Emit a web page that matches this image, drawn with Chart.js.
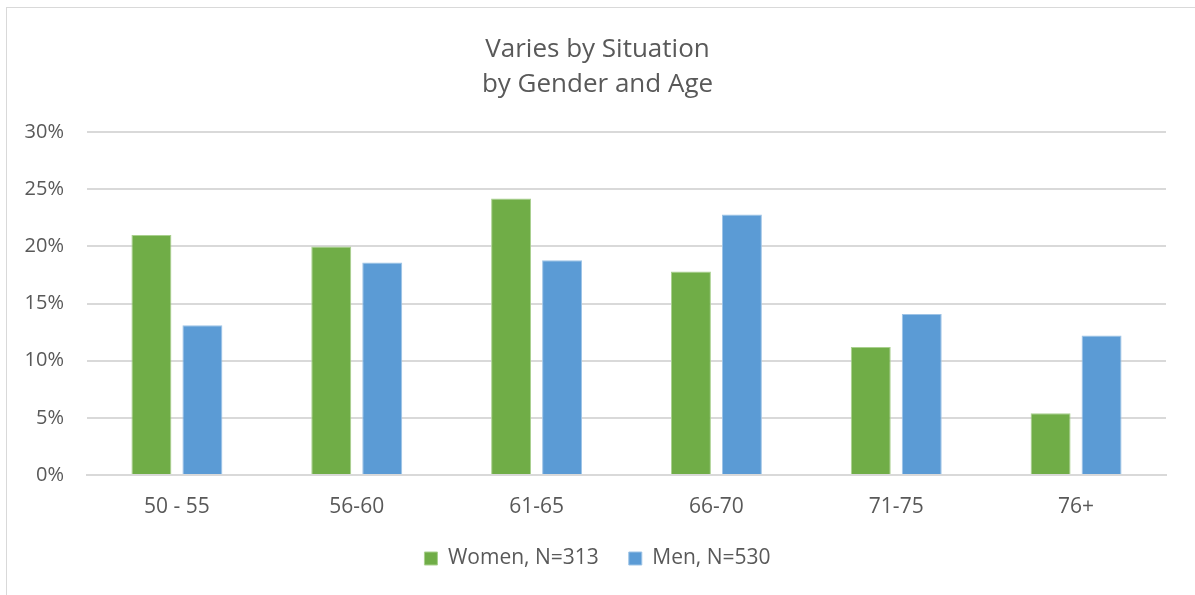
<!DOCTYPE html>
<html>
<head>
<meta charset="utf-8">
<script src="https://cdn.jsdelivr.net/npm/chart.js@4.4.1/dist/chart.umd.min.js"></script>
<style>
  body { margin: 0; background: #fff; }
  #wrap { position: relative; width: 1195px; height: 595px; }
  #frame { position: absolute; left: 6px; top: 7px; width: 1200px; height: 600px; border-left: 1px solid #d9d9d9; border-top: 1px solid #d9d9d9; }
  canvas { position: absolute; left: 0; top: 0; }
</style>
</head>
<body>
<div id="wrap">
  <div id="frame"></div>
  <canvas id="chart" width="1195" height="595"></canvas>
</div>
<script>
// Data
const ageGroups = ['50 - 55', '56-60', '61-65', '66-70', '71-75', '76+'];
const women = [21.0, 20.0, 24.2, 17.8, 11.2, 5.4];
const men = [13.1, 18.6, 18.8, 22.8, 14.1, 12.2];
const seriesNames = ['Women, N=313', 'Men, N=530'];

const textColor = '#595959';
const fontFamily = "'Open Sans', 'Noto Sans', sans-serif";

const ctx = document.getElementById('chart').getContext('2d');
const chart = new Chart(ctx, {
    type: 'bar',
    data: {
        labels: ageGroups,
        datasets: [
            {
                label: seriesNames[0],
                data: women,
                backgroundColor: '#70ad47',
                borderColor: '#a9d08e',
                borderWidth: 1,
                categoryPercentage: 0.567,
                barPercentage: 0.784
            },
            {
                label: seriesNames[1],
                data: men,
                backgroundColor: '#5b9bd5',
                borderColor: '#9dc3e6',
                borderWidth: 1,
                categoryPercentage: 0.567,
                barPercentage: 0.784
            }
        ]
    },
    options: {
        responsive: false,
        animation: false,
        layout: {
            padding: { left: 0, right: 0, top: 32, bottom: 16 }
        },
        scales: {
            y: {
                min: 0,
                max: 30,
                afterFit: (scale) => { scale.width = 87; },
                ticks: {
                    stepSize: 5,
                    color: textColor,
                    padding: 23,
                    font: { family: fontFamily, size: 20 },
                    callback: (v) => v + '%'
                },
                grid: { color: '#d9d9d9', lineWidth: 2, drawTicks: false },
                border: { display: false }
            },
            // empty right-hand axis, only keeps the right margin
            y2: {
                position: 'right',
                afterFit: (scale) => { scale.width = 29; },
                ticks: { display: false },
                grid: { display: false },
                border: { display: false }
            },
            x: {
                afterFit: (scale) => { scale.height = 43; },
                ticks: {
                    color: textColor,
                    padding: 19,
                    font: { family: fontFamily, size: 21 }
                },
                grid: { display: false, drawTicks: false },
                border: { color: '#d9d9d9', width: 2 }
            }
        },
        plugins: {
            title: {
                display: true,
                text: ['Varies by Situation', 'by Gender and Age'],
                color: textColor,
                font: { family: fontFamily, size: 26, weight: 'normal', lineHeight: 1.35 },
                padding: { top: 0, bottom: 30 }
            },
            legend: {
                position: 'bottom',
                labels: {
                    color: textColor,
                    boxWidth: 13,
                    boxHeight: 13,
                    padding: 30,
                    font: { family: fontFamily, size: 21 }
                }
            },
            tooltip: { enabled: false }
        }
    }
});
</script>
</body>
</html>
